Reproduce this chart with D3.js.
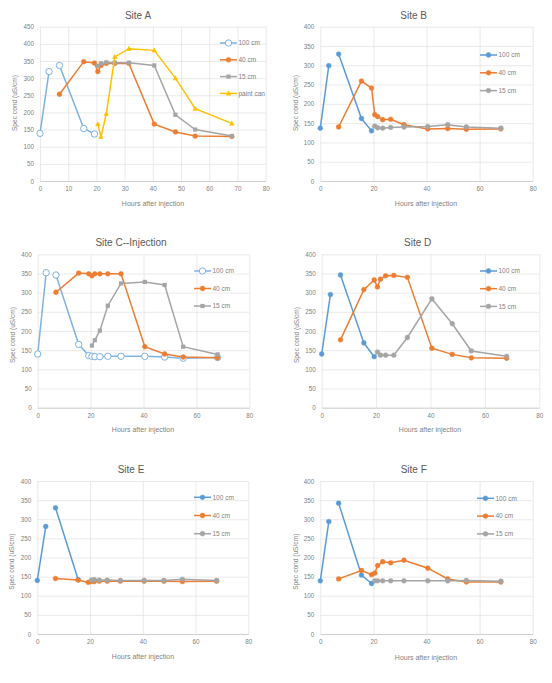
<!DOCTYPE html>
<html><head><meta charset="utf-8">
<script src="https://cdn.jsdelivr.net/npm/d3@7"></script>
<style>body{margin:0;background:#fff}svg{display:block}text{font-family:"Liberation Sans",Arial,sans-serif}</style>
</head><body>
<script>
// Shared sampling times (hours after injection); hour 5 = missing reading (gap)
const hours = [0, 3.2, 5, 6.9, 15.5, 19.3, 20.5, 21.6, 23.5, 26.5, 31.5, 40.5, 48, 55, 68];
const seriesNames = ["100 cm", "40 cm", "15 cm", "paint can"];
const N = null;

const siteA_100 = [139, 319, N, 337, 153, 137, N, N, N, N, N, N, N, N, N];
const siteA_40  = [N, N, N, 253, 348, 344, 319, 337, 343, 343, 343, 166, 143, 131, 130];
const siteA_15  = [N, N, N, N, N, N, 336, 343, 346, 345, 345, 337, 193, 150, 131];
const siteA_paint = [N, N, N, N, N, N, 166, 129, 196, 362, 386, 381, 300, 211, 168];

const siteB_100 = [137, 299, N, 329, 162, 130, N, N, N, N, N, N, N, N, N];
const siteB_40  = [N, N, N, 140, 259, 241, 172, 167, 159, 160, 146, 135, 136, 134, 135];
const siteB_15  = [N, N, N, N, N, N, 142, 138, 137, 139, 140, 141, 146, 140, 137];

const siteC_100 = [140, 352, N, 346, 165, 136, 134, 133, 133, 134, 134, 134, 132, 129, 131];
const siteC_40  = [N, N, N, 301, 351, 349, 344, 349, 349, 349, 349, 159, 140, 132, 130];
const siteC_15  = [N, N, N, N, N, N, 162, 176, 201, 266, 324, 328, 320, 159, 139];

const siteD_100 = [140, 295, N, 346, 169, 133, N, N, N, N, N, N, N, N, N];
const siteD_40  = [N, N, N, 177, 308, 333, 315, 335, 344, 345, 340, 155, 139, 130, 129];
const siteD_15  = [N, N, N, N, N, N, 145, 137, 137, 137, 183, 284, 219, 148, 134];

const siteE_100 = [140, 281, N, 330, 142, N, N, N, N, N, N, N, N, N, N];
const siteE_40  = [N, N, N, 145, 141, 135, 137, 137, 138, 138, 138, 138, 138, 137, 138];
const siteE_15  = [N, N, N, N, N, N, 141, 142, 141, 141, 140, 140, 140, 143, 140];

const siteF_100 = [139, 294, N, 342, 154, 132, N, N, N, N, N, N, N, N, N];
const siteF_40  = [N, N, N, 144, 166, 155, 159, 179, 189, 186, 193, 172, 144, 136, 136];
const siteF_15  = [N, N, N, N, N, N, 139, 139, 139, 139, 139, 139, 139, 140, 138];

const titles = ["Site A", "Site B", "Site C--Injection", "Site D", "Site E", "Site F"];
const yMaxes = [450, 400, 400, 400, 400, 400];
const xTickSteps = [10, 20, 20, 20, 20, 20];
const panelSeries = [
  [siteA_100, siteA_40, siteA_15, siteA_paint],
  [siteB_100, siteB_40, siteB_15],
  [siteC_100, siteC_40, siteC_15],
  [siteD_100, siteD_40, siteD_15],
  [siteE_100, siteE_40, siteE_15],
  [siteF_100, siteF_40, siteF_15]
];

// ---------- layout & style (not data) ----------
const layout = [
  {plot:[40,26.7,265.7,181],   title:[138,18.5],   xl:[153,205.5], yl:[14,103],  leg:[220,43,16.8]},
  {plot:[320.3,26.7,532.7,181],title:[413.7,18.5], xl:[426,205.5], yl:[295,103], leg:[480,55,17.8]},
  {plot:[37.7,254.3,249.3,407.7],title:[131,245.5],xl:[143,432],   yl:[12,335],  leg:[194,271,17.5]},
  {plot:[321.7,254.3,539.3,407.7],title:[417.7,245.5],xl:[430,432],yl:[296,335], leg:[480,271,17.7]},
  {plot:[37.3,481,248.3,634],  title:[131,472.5],  xl:[143,659],   yl:[11,561.7],leg:[194,497.3,18.2]},
  {plot:[320.3,481,532.7,634], title:[413.7,472.5],xl:[426,659.5], yl:[295,561.7],leg:[477,498.3,17.8]}
];
const colors = ["#5B9BD5", "#ED7D31", "#A5A5A5", "#FFC000"];
const markerStyles = [
  ["hollow", "circle", "square", "triangle"],
  ["circle", "circle", "circle"],
  ["hollow", "circle", "square"],
  ["circle", "circle", "circle"],
  ["circle", "circle", "circle"],
  ["circle", "circle", "circle"]
];

const svg = d3.select("body").append("svg").attr("width", 552).attr("height", 683);
svg.append("rect").attr("width", 552).attr("height", 683).attr("fill", "#fff");

function drawMarker(g, type, x, y, color) {
  if (type === "circle") {
    g.append("circle").attr("cx", x).attr("cy", y).attr("r", 2.4).attr("fill", color).attr("stroke", color).attr("stroke-width", 0.5);
  } else if (type === "hollow") {
    g.append("circle").attr("cx", x).attr("cy", y).attr("r", 3.2).attr("fill", "#fff").attr("stroke", "#7FB2E0").attr("stroke-width", 1);
  } else if (type === "square") {
    g.append("rect").attr("x", x - 2.1).attr("y", y - 2.1).attr("width", 4.2).attr("height", 4.2).attr("fill", color);
  } else if (type === "triangle") {
    g.append("path").attr("d", `M${x},${y - 2.8}L${x + 2.7},${y + 2}L${x - 2.7},${y + 2}Z`).attr("fill", color);
  }
}

panelSeries.forEach((series, p) => {
  const L = layout[p];
  const [x0, y0, x1, y1] = L.plot;
  const x = d3.scaleLinear().domain([0, 80]).range([x0, x1]);
  const y = d3.scaleLinear().domain([0, yMaxes[p]]).range([y1, y0]);
  const g = svg.append("g");

  // gridlines
  const xt = d3.range(0, 80 + 1e-9, xTickSteps[p]);
  const yt = d3.range(0, yMaxes[p] + 1e-9, 50);
  g.append("g").attr("transform", `translate(0,${y1})`)
    .call(d3.axisBottom(x).tickValues(xt).tickSize(-(y1 - y0)).tickFormat(""))
    .call(a => a.select(".domain").remove())
    .call(a => a.selectAll("line").attr("stroke", "#E4E4E4").attr("stroke-width", 0.8));
  g.append("g").attr("transform", `translate(${x0},0)`)
    .call(d3.axisLeft(y).tickValues(yt).tickSize(-(x1 - x0)).tickFormat(""))
    .call(a => a.select(".domain").remove())
    .call(a => a.selectAll("line").attr("stroke", "#E4E4E4").attr("stroke-width", 0.8));
  // bottom axis line + labels
  g.append("g").attr("transform", `translate(0,${y1})`)
    .call(d3.axisBottom(x).tickValues(xt).tickSize(0).tickPadding(6))
    .call(a => a.select(".domain").attr("stroke", "#D0D0D0"))
    .call(a => a.selectAll("text").attr("fill", "#7F7F7F").attr("font-size", 6.3));
  g.append("g").attr("transform", `translate(${x0},0)`)
    .call(d3.axisLeft(y).tickValues(yt).tickSize(0).tickPadding(6))
    .call(a => a.select(".domain").remove())
    .call(a => a.selectAll("text").attr("fill", "#7F7F7F").attr("font-size", 6.3));

  // titles
  svg.append("text").attr("x", L.title[0]).attr("y", L.title[1]).attr("text-anchor", "middle")
    .attr("font-size", 10).attr("fill", "#595959").text(titles[p]);
  svg.append("text").attr("x", L.xl[0]).attr("y", L.xl[1]).attr("text-anchor", "middle")
    .attr("font-size", 7).attr("fill", "#7F7F7F").text("Hours after injection");
  svg.append("text").attr("transform", `translate(${L.yl[0] + 2.5},${L.yl[1]}) rotate(-90)`).attr("text-anchor", "middle")
    .attr("font-size", 6.6).attr("fill", "#7F7F7F").text("Spec cond (uS/cm)");

  // series
  const line = d3.line().defined(d => d.v != null).x(d => x(d.h)).y(d => y(d.v));
  series.forEach((vals, s) => {
    const pts = vals.map((v, i) => ({h: hours[i], v}));
    const type = markerStyles[p][s];
    const lc = type === "hollow" ? "#7FB2E0" : colors[s];
    g.append("path").attr("d", line(pts)).attr("fill", "none").attr("stroke", lc).attr("stroke-width", 1.5);
    const mg = g.append("g");
    pts.filter(d => d.v != null).forEach(d => drawMarker(mg, type, x(d.h), y(d.v), colors[s]));
    // legend
    const [lx, ly, step] = L.leg;
    const yy = ly + s * step;
    const lg = svg.append("g");
    lg.append("line").attr("x1", lx).attr("x2", lx + 17).attr("y1", yy).attr("y2", yy).attr("stroke", lc).attr("stroke-width", 1.5);
    drawMarker(lg, type, lx + 8.5, yy, colors[s]);
    lg.append("text").attr("x", lx + 18.5).attr("y", yy + 2.3).attr("font-size", 6.5).attr("fill", "#7F7F7F").text(seriesNames[s]);
  });
});
</script>
</body></html>
